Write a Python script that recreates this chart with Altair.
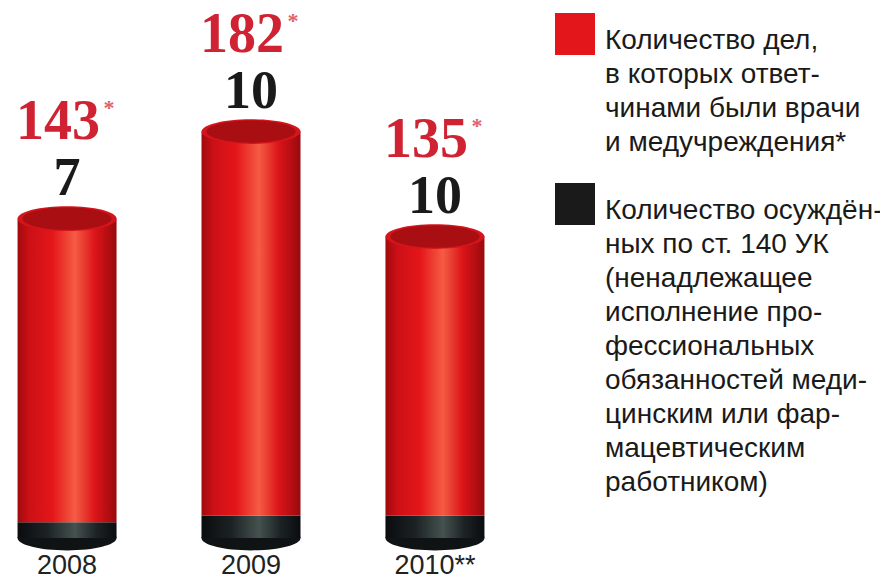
import altair as alt
import pandas as pd

years = ["2008", "2009", "2010**"]
cases = [143, 182, 135]
convicted = [7, 10, 10]
case_marks = ["*", "*", "*"]

legend_cases = "Количество дел,|в которых ответ-|чинами были врачи|и медучреждения*"
legend_convicted = ("Количество осуждён-|ных по ст. 140 УК|(ненадлежащее|исполнение про-|"
                    "фессиональных|обязанностей меди-|цинским или фар-|мацевтическим|работником)")

df = pd.DataFrame({"year": years, "cases": cases, "convicted": convicted, "mark": case_marks})
legend_df = pd.DataFrame({"year": [years[0], years[0]], "series": [legend_cases, legend_convicted],
                          "v": [0, 0]})

BW = 99
x_enc = alt.X("year:N", sort=years, title=None,
              scale=alt.Scale(paddingInner=0.462, paddingOuter=0.052),
              axis=alt.Axis(domain=False, ticks=False, labelAngle=0, labelFontSize=27,
                            labelFont="Liberation Sans", labelColor="#222222", labelPadding=14))
y_scale = alt.Scale(domain=[0, 234.2], nice=False, zero=True)

ellipse = "M -1 0 A 1 0.25 0 1 1 1 0 A 1 0.25 0 1 1 -1 0 Z"
legend_square = "M -1 -0.7 L 1 -0.7 L 1 1.4 L -1 1.4 Z"

red_grad = alt.LinearGradient(gradient="linear", x1=0, x2=1, y1=0, y2=0, stops=[
    alt.GradientStop(offset=0, color="#a00a0e"),
    alt.GradientStop(offset=0.12, color="#cc1016"),
    alt.GradientStop(offset=0.35, color="#e4161a"),
    alt.GradientStop(offset=0.58, color="#f45c44"),
    alt.GradientStop(offset=0.78, color="#dc1418"),
    alt.GradientStop(offset=1, color="#980a0e"),
])
black_grad = alt.LinearGradient(gradient="linear", x1=0, x2=1, y1=0, y2=0, stops=[
    alt.GradientStop(offset=0, color="#0a0c0e"),
    alt.GradientStop(offset=0.3, color="#1c2224"),
    alt.GradientStop(offset=0.58, color="#45524f"),
    alt.GradientStop(offset=0.8, color="#1c2224"),
    alt.GradientStop(offset=1, color="#0a0c0e"),
])

base = alt.Chart(df).encode(x=x_enc)

bottom_cap = base.mark_point(shape=ellipse, size=BW * BW, filled=True, color="#101314",
                             opacity=1, strokeWidth=0).encode(
    y=alt.Y("v:Q", scale=y_scale, axis=None)).transform_calculate(v="0")
black_bar = base.mark_bar(color=black_grad, width=BW).encode(
    y=alt.Y("zero:Q", scale=y_scale, axis=None), y2="convicted:Q").transform_calculate(zero="0")
red_bar = base.mark_bar(color=red_grad, width=BW).encode(
    y=alt.Y("convicted:Q", scale=y_scale, axis=None), y2="cases:Q")
top_cap = base.mark_point(shape=ellipse, size=BW * BW, filled=True, color="#d4151b",
                          opacity=1, strokeWidth=0).encode(y=alt.Y("cases:Q", scale=y_scale, axis=None))
top_inner = base.mark_point(shape=ellipse, size=(BW * 0.9) ** 2, filled=True, color="#a80e12",
                            opacity=1, strokeWidth=0, dy=2).encode(
    y=alt.Y("cases:Q", scale=y_scale, axis=None))

red_txt = base.mark_text(font="Liberation Serif", fontWeight="bold", fontSize=56, color="#cf2232",
                         baseline="alphabetic", dy=-80, dx=-9).encode(
    y=alt.Y("cases:Q", scale=y_scale, axis=None), text="cases:Q")
star_txt = base.mark_text(font="Liberation Serif", fontWeight="bold", fontSize=22, color="#e06070",
                          baseline="alphabetic", dy=-104, dx=42).encode(
    y=alt.Y("cases:Q", scale=y_scale, axis=None), text="mark:N")
black_txt = base.mark_text(font="Liberation Serif", fontWeight="bold", fontSize=54, color="#1a1a1a",
                           baseline="alphabetic", dy=-24).encode(
    y=alt.Y("cases:Q", scale=y_scale, axis=None), text="convicted:Q")

legend_layer = alt.Chart(legend_df).mark_square(opacity=0, size=0).encode(
    x=alt.X("year:N", sort=years),
    y=alt.Y("v:Q", scale=y_scale, axis=None),
    color=alt.Color("series:N", sort=[legend_cases, legend_convicted],
                    scale=alt.Scale(domain=[legend_cases, legend_convicted], range=["#e3161c", "#1a1a1a"]),
                    legend=alt.Legend(title=None, orient="none", legendX=547, legendY=-8, padding=0,
                                      symbolType=legend_square, symbolSize=1600, symbolOpacity=1,
                                      symbolStrokeWidth=0, labelFont="Liberation Sans",
                                      labelFontSize=28, labelColor="#1a1a1a", labelLimit=320,
                                      labelOffset=10, rowPadding=20, labelBaseline="top",
                                      labelExpr="split(datum.label, '|')")))

chart = alt.layer(bottom_cap, black_bar, red_bar, top_cap, top_inner, red_txt, star_txt, black_txt,
                  legend_layer).properties(
    width=486, height=523,
    autosize=alt.AutoSizeParams(type="none"),
    padding={"left": 0, "top": 7, "right": 386, "bottom": 46}).configure(
    view=alt.ViewConfig(stroke=None), style={"guide-label": {"lineHeight": 34}})

chart.save("out.html", embed_options={"renderer": "svg", "actions": False})
